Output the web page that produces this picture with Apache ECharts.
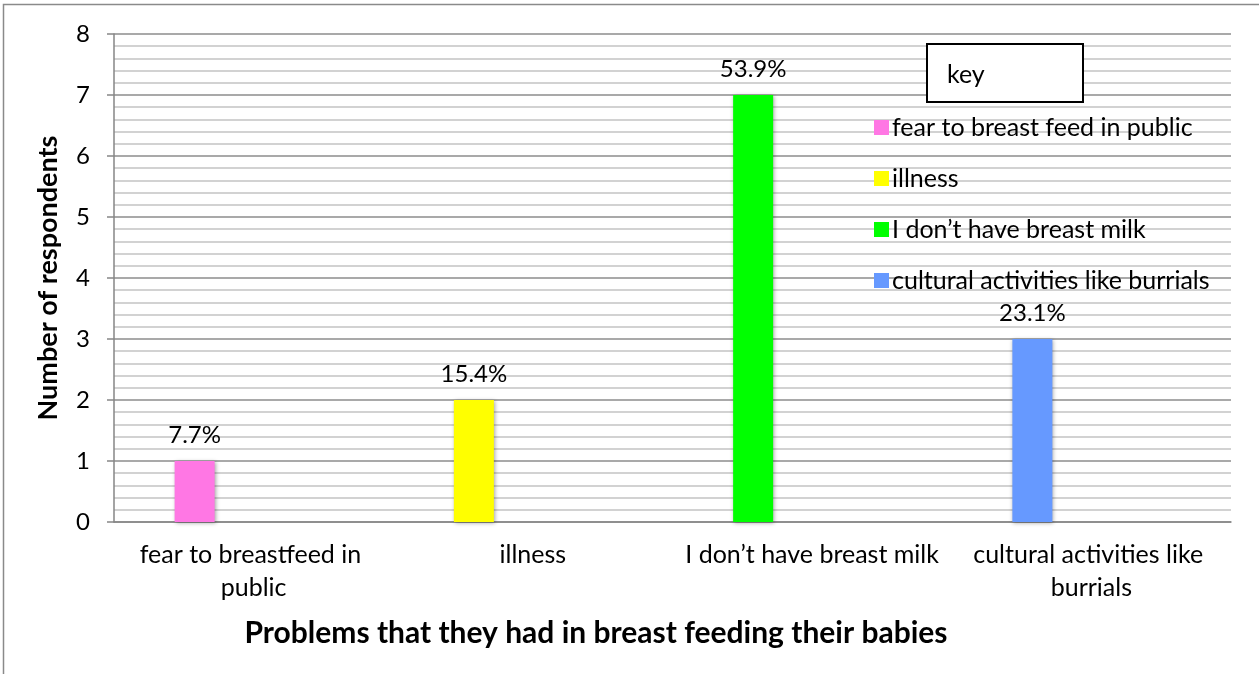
<!DOCTYPE html>
<html>
<head>
<meta charset="utf-8">
<script src="https://cdn.jsdelivr.net/npm/echarts@6/dist/echarts.min.js"></script>
<style>
  html, body { margin: 0; padding: 0; background: #ffffff; }
  #chart { width: 1259px; height: 674px; }
</style>
</head>
<body>
<div id="chart"></div>
<script>
// Problems reported with breastfeeding
const categories = [
  'fear to breastfeed in public',
  'illness',
  'I don\u2019t have breast milk',
  'cultural activities like burrials'
];
const legendNames = [
  'fear to breast feed in public',
  'illness',
  'I don\u2019t have breast milk',
  'cultural activities like burrials'
];
const respondents = [1, 2, 7, 3];
const percentLabels = ['7.7%', '15.4%', '53.9%', '23.1%'];
const barColors = ['#ff77e4', '#ffff00', '#00ff00', '#6699ff'];
const yTicks = [0, 1, 2, 3, 4, 5, 6, 7, 8];

const FONT = 'Lato';
const chart = echarts.init(document.getElementById('chart'));

// one stacked series per problem, each holding only its own category
const problemSeries = legendNames.map((name, i) => ({
  name: name,
  type: 'bar',
  stack: 'count',
  barWidth: 40,
  barGap: '195%',
  data: categories.map((c, j) => (j === i ? respondents[i] : null)),
  itemStyle: {
    color: barColors[i],
    shadowColor: 'rgba(0,0,0,0.35)',
    shadowBlur: 4,
    shadowOffsetX: 1,
    shadowOffsetY: 1
  },
  label: {
    show: true,
    position: 'top',
    distance: 14,
    color: '#000',
    fontFamily: FONT,
    fontSize: 24,
    formatter: () => percentLabels[i]
  }
}));

// empty second slot so the bars sit left of each category centre
const spacer = {
  name: 'spacer',
  type: 'bar',
  stack: 'empty',
  barWidth: 40,
  barGap: '195%',
  data: categories.map(() => null)
};

chart.setOption({
  animation: false,
  backgroundColor: '#ffffff',
  textStyle: { fontFamily: FONT },
  grid: { left: 114, right: 28, top: 34, bottom: 152 },
  legend: {
    data: legendNames,
    orient: 'vertical',
    left: 869,
    top: 110,
    itemWidth: 15,
    itemHeight: 15,
    itemGap: 26,
    icon: 'rect',
    textStyle: { color: '#000', fontFamily: FONT, fontSize: 25, lineHeight: 25, padding: [0, 0, 0, -2] },
    selectedMode: false
  },
  xAxis: {
    type: 'category',
    data: categories,
    name: 'Problems that they had in breast feeding their babies',
    nameLocation: 'middle',
    nameGap: 96,
    nameTextStyle: {
      color: '#000', fontFamily: FONT, fontSize: 30, fontWeight: 'bold',
      padding: [0, 153, 0, 0]
    },
    axisLine: { lineStyle: { color: '#868686', width: 1.5 } },
    axisTick: { show: false },
    axisLabel: {
      color: '#000', fontFamily: FONT, fontSize: 25, lineHeight: 33,
      margin: 16, width: 279, overflow: 'break', interval: 0
    },
    splitLine: { show: false }
  },
  yAxis: {
    type: 'value',
    min: yTicks[0],
    max: yTicks[yTicks.length - 1],
    interval: 1,
    name: 'Number of respondents',
    nameLocation: 'middle',
    nameGap: 52,
    nameTextStyle: { color: '#000', fontFamily: FONT, fontSize: 27, fontWeight: 'bold' },
    axisLine: { show: true, lineStyle: { color: '#868686', width: 1.5 } },
    axisTick: { show: true, inside: false, length: 7, lineStyle: { color: '#868686', width: 1.5 } },
    axisLabel: { color: '#000', fontFamily: FONT, fontSize: 24, margin: 24 },
    splitLine: { show: true, lineStyle: { color: '#8c8c8c', width: 1.5 } },
    minorTick: { show: false, splitNumber: 5 },
    minorSplitLine: { show: true, lineStyle: { color: '#c4c4c4', width: 1.5 } }
  },
  graphic: [
    {
      type: 'rect',
      shape: { x: 3.5, y: 4.5, width: 1400, height: 800 },
      style: { fill: 'none', stroke: '#8a8a8a', lineWidth: 1.5 },
      silent: true,
      z: 100
    },
    {
      type: 'rect',
      shape: { x: 927, y: 44, width: 156, height: 58 },
      style: { fill: '#ffffff', stroke: '#000000', lineWidth: 2 },
      z: 100
    },
    {
      type: 'text',
      x: 947,
      y: 75,
      style: { text: 'key', fill: '#000', font: '25px ' + FONT, verticalAlign: 'middle' },
      z: 101
    }
  ],
  series: problemSeries.concat([spacer])
});
</script>
</body>
</html>
